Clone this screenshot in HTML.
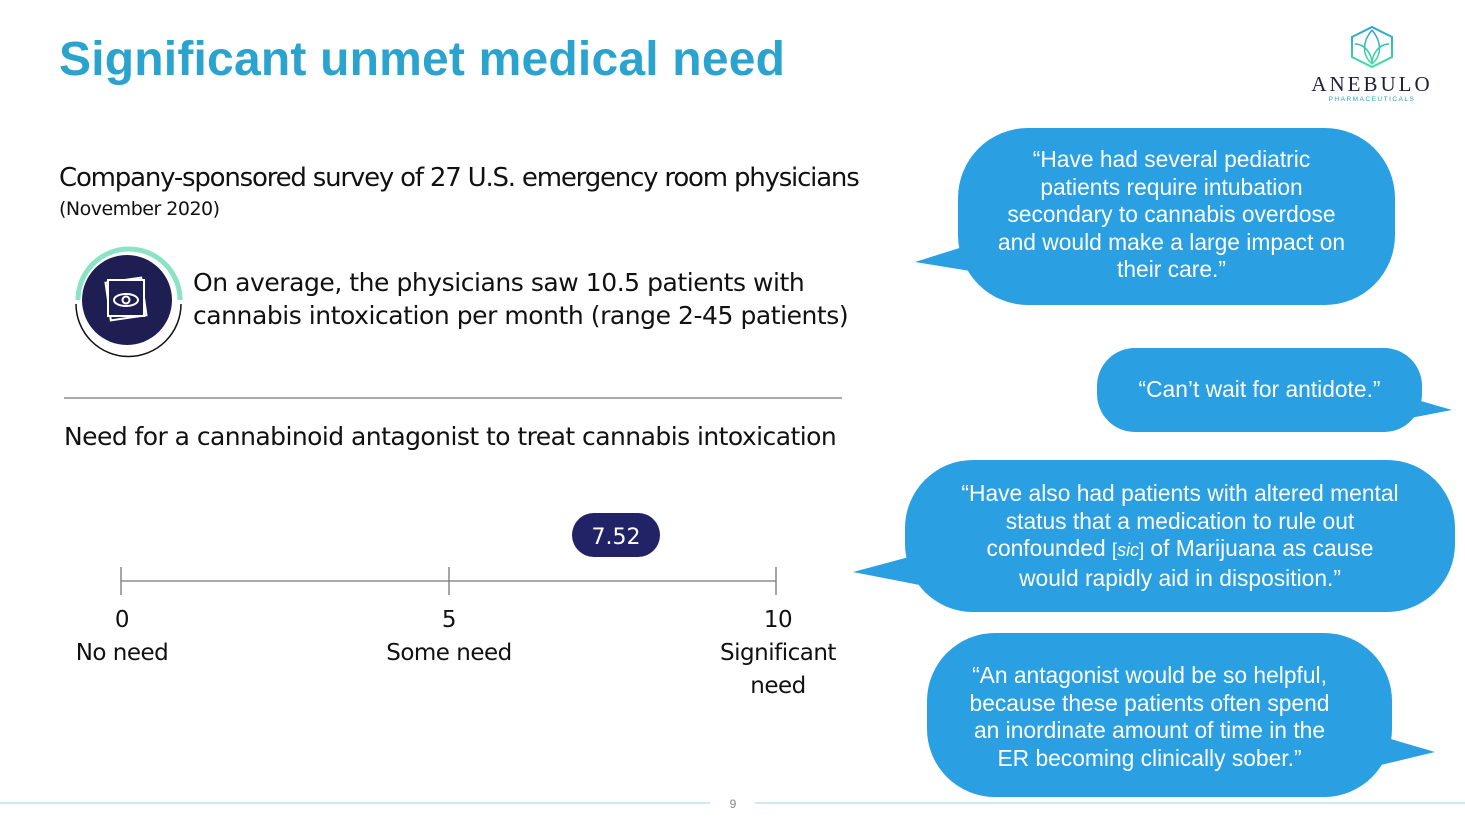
<!DOCTYPE html>
<html><head><meta charset="utf-8"><style>
body{margin:0;width:1465px;height:824px;background:#fff;position:relative;overflow:hidden;font-family:"Liberation Sans",sans-serif}
.t{position:absolute;white-space:nowrap}
.q{position:absolute;color:#fff;font-size:22.8px;text-align:center;line-height:27.5px}
</style></head><body>
<div class="t" style="left:59px;top:32px;font-size:48px;font-weight:bold;color:#2aa3cf;font-family:'Liberation Sans',sans-serif;letter-spacing:0.2px">Significant unmet medical need</div>
<svg style="position:absolute;left:0;top:0" width="1465" height="824">
<defs><linearGradient id="g" x1="0" y1="0" x2="0" y2="1"><stop offset="0" stop-color="#2aa3cf"/><stop offset="1" stop-color="#40e0a0"/></linearGradient></defs>
<polygon points="1372,27 1392,37 1392,57 1372,67 1352,57 1352,37" fill="none" stroke="url(#g)" stroke-width="2"/>
<path d="M1372,30 C1362,42 1362,55 1372,64 C1382,55 1382,42 1372,30 M1355,44 C1365,44 1372,54 1372,64 M1389,44 C1379,44 1372,54 1372,64" fill="none" stroke="url(#g)" stroke-width="1.5"/>
<text x="1372" y="91" text-anchor="middle" font-family="Liberation Serif" font-size="21" fill="#1e1e40" letter-spacing="3">ANEBULO</text>
<text x="1372" y="101" text-anchor="middle" font-family="Liberation Sans" font-size="6.5" fill="#2aa3cf" letter-spacing="1.5">PHARMACEUTICALS</text>
<circle cx="127" cy="300" r="45" fill="#1e1e52"/>
<path d="M78,300 A50,50 0 0 1 180,300" fill="none" stroke="#8ae3c5" stroke-width="5"/>
<path d="M76,304 A52,52 0 0 0 181,304" fill="none" stroke="#111" stroke-width="1.5"/>
<rect x="108" y="280" width="36" height="38" fill="none" stroke="#fff" stroke-width="2" transform="rotate(-8 126 299)"/>
<rect x="108" y="280" width="36" height="36" fill="#1e1e52" stroke="#fff" stroke-width="2"/>
<ellipse cx="126" cy="300" rx="12" ry="6" fill="none" stroke="#fff" stroke-width="2"/><circle cx="126" cy="300" r="3.5" fill="none" stroke="#fff" stroke-width="2"/>
<line x1="64" y1="398" x2="842" y2="398" stroke="#555" stroke-width="1"/>
<line x1="121" y1="581" x2="776" y2="581" stroke="#777" stroke-width="1.3"/>
<line x1="121" y1="567" x2="121" y2="595" stroke="#777" stroke-width="1.3"/>
<line x1="449" y1="567" x2="449" y2="595" stroke="#777" stroke-width="1.3"/>
<line x1="776" y1="567" x2="776" y2="595" stroke="#777" stroke-width="1.3"/>
<rect x="572" y="513" width="88" height="44" rx="22" fill="#222266"/>
<text x="616" y="544" text-anchor="middle" font-family="DejaVu Sans" font-size="22" fill="#fff">7.52</text>
<g fill="#2a9fe2">
<rect x="958" y="128" width="437" height="177" rx="70"/><polygon points="985,240 915,262 995,275"/>
<rect x="1097" y="348" width="325" height="84" rx="38"/><polygon points="1400,395 1452,410 1400,420"/>
<rect x="905" y="460" width="550" height="152" rx="68"/><polygon points="935,550 853,572 945,590"/>
<rect x="927" y="633" width="465" height="164" rx="68"/><polygon points="1360,730 1435,752 1360,770"/>
</g>
<line x1="0" y1="803" x2="710" y2="803" stroke="#9bd3e3" stroke-width="1"/>
<line x1="755" y1="803" x2="1465" y2="803" stroke="#9bd3e3" stroke-width="1"/>
<text x="733" y="808" text-anchor="middle" font-size="12" fill="#888" font-family="Liberation Sans">9</text>
</svg>
<div class="t" style="left:59px;top:163px;font-size:26px;color:#111;font-family:'DejaVu Sans',sans-serif;letter-spacing:-1.2px">Company-sponsored survey of 27 U.S. emergency room physicians</div>
<div class="t" style="left:59px;top:198px;font-size:19px;color:#111;font-family:'DejaVu Sans',sans-serif;letter-spacing:-0.5px">(November 2020)</div>
<div class="t" style="left:193px;top:266px;font-size:25px;color:#111;line-height:33px;font-family:'DejaVu Sans',sans-serif;letter-spacing:-0.45px">On average, the physicians saw 10.5 patients with<br>cannabis intoxication per month (range 2-45 patients)</div>
<div class="t" style="left:64px;top:422px;font-size:25px;color:#111;font-family:'DejaVu Sans',sans-serif;letter-spacing:-0.55px">Need for a cannabinoid antagonist to treat cannabis intoxication</div>
<div class="t" style="left:22px;width:200px;top:604px;font-size:23px;color:#111;text-align:center;line-height:33px;font-family:'DejaVu Sans',sans-serif;letter-spacing:-0.5px">0<br>No need</div>
<div class="t" style="left:349px;width:200px;top:604px;font-size:23px;color:#111;text-align:center;line-height:33px;font-family:'DejaVu Sans',sans-serif;letter-spacing:-0.5px">5<br>Some need</div>
<div class="t" style="left:678px;width:200px;top:604px;font-size:23px;color:#111;text-align:center;line-height:33px;font-family:'DejaVu Sans',sans-serif;letter-spacing:-0.5px">10<br>Significant<br>need</div>
<div class="q" style="left:958px;width:427px;top:146px">“Have had several pediatric<br>patients require intubation<br>secondary to cannabis overdose<br>and would make a large impact on<br>their care.”</div>
<div class="q" style="left:1097px;width:325px;top:376px">“Can’t wait for antidote.”</div>
<div class="q" style="left:905px;width:550px;top:480px">“Have also had patients with altered mental<br>status that a medication to rule out<br>confounded <span style="font-size:18px">[<i>sic</i>]</span> of Marijuana as cause<br>would rapidly aid in disposition.”</div>
<div class="q" style="left:917px;width:465px;top:662px">“An antagonist would be so helpful,<br>because these patients often spend<br>an inordinate amount of time in the<br>ER becoming clinically sober.”</div>
</body></html>
